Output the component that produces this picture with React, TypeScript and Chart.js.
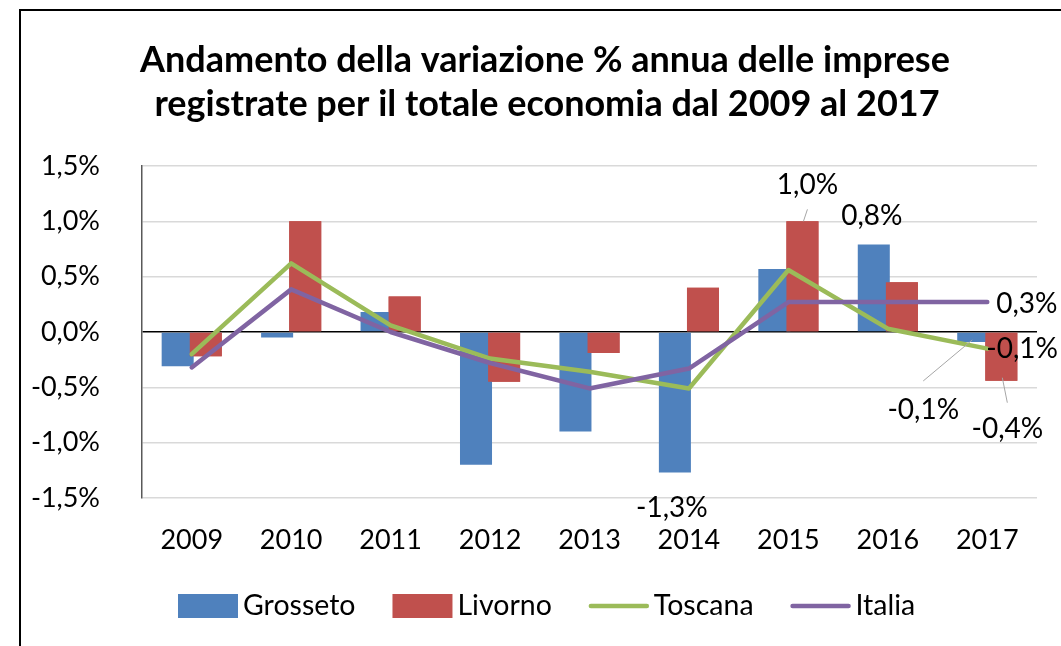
import React, { useEffect, useRef } from 'react';
import { Chart, registerables } from 'chart.js';

Chart.register(...registerables);

const years = ['2009', '2010', '2011', '2012', '2013', '2014', '2015', '2016', '2017'];
const grosseto = [-0.31, -0.05, 0.18, -1.2, -0.9, -1.27, 0.57, 0.79, -0.09];
const livorno = [-0.22, 1.0, 0.32, -0.45, -0.19, 0.4, 1.0, 0.45, -0.44];
const toscana = [-0.2, 0.62, 0.06, -0.24, -0.36, -0.51, 0.56, 0.03, -0.15];
const italia = [-0.32, 0.385, 0.0, -0.28, -0.51, -0.33, 0.27, 0.27, 0.27];
const yMin = -1.5;
const yMax = 1.5;
const yStep = 0.5;
const titleLines = [
  'Andamento della variazione % annua delle imprese',
  'registrate per il totale economia dal 2009 al 2017',
];

const FONT = 'Lato';

const fmt = (v: number) => (Math.round(v * 10) / 10).toFixed(1).replace('.', ',') + '%';

// label placement (style): dataset index, point index, offset, alignment, optional leader line
const labelDefs = [
  { ds: 1, i: 6, dx: 5, dy: -36, align: 'center', leader: [5, -12, 1, 0] },
  { ds: 0, i: 7, dx: -2, dy: -29, align: 'center' },
  { ds: 3, i: 8, dx: 9, dy: 2, align: 'left' },
  { ds: 2, i: 8, dx: -1, dy: 0, align: 'left' },
  { ds: 0, i: 8, dx: -50, dy: 68, align: 'center', leader: [-1, -2, -50, 39] },
  { ds: 1, i: 8, dx: 6, dy: 48, align: 'center', leader: [1, -3, 6, 22] },
  { ds: 0, i: 5, dx: -3, dy: 35, align: 'center' },
];

const decorPlugin = {
  id: 'decor',
  afterDatasetDraw(chart: any, args: any) {
    // Livorno bars sit over Grosseto bars where they overlap
    if (args.index === 0) {
      chart.getDatasetMeta(1).controller.draw();
    }
  },
  afterDraw(chart: any) {
    const ctx = chart.ctx as CanvasRenderingContext2D;
    ctx.save();
    // outer frame
    ctx.strokeStyle = '#000';
    ctx.lineWidth = 2;
    ctx.beginPath();
    ctx.moveTo(20, 646);
    ctx.lineTo(20, 10);
    ctx.lineTo(1061, 10);
    ctx.stroke();

    // title
    ctx.fillStyle = '#000';
    ctx.font = `bold 36px ${FONT}`;
    ctx.textAlign = 'center';
    ctx.textBaseline = 'middle';
    ctx.fillText(titleLines[0], 545, 60);
    ctx.fillText(titleLines[1], 547, 104);

    // data labels
    ctx.font = `28px ${FONT}`;
    ctx.textBaseline = 'middle';
    labelDefs.forEach((d) => {
      const meta = chart.getDatasetMeta(d.ds);
      const el = meta.data[d.i];
      const v = chart.data.datasets[d.ds].data[d.i];
      if (d.leader) {
        ctx.strokeStyle = '#a6a6a6';
        ctx.lineWidth = 1;
        ctx.beginPath();
        ctx.moveTo(el.x + d.leader[0], el.y + d.leader[1]);
        ctx.lineTo(el.x + d.leader[2], el.y + d.leader[3]);
        ctx.stroke();
      }
      ctx.fillStyle = '#000';
      ctx.textAlign = d.align as CanvasTextAlign;
      ctx.fillText(fmt(v), el.x + d.dx, el.y + d.dy);
    });

    // legend
    ctx.font = `28.5px ${FONT}`;
    const items = chart.data.datasets.map((ds: any) => ({
      label: ds.label,
      color: ds.type === 'line' ? ds.borderColor : ds.backgroundColor,
      line: ds.type === 'line',
    }));
    const sym = 60;
    const gapSym = 5;
    const gapItem = 37;
    let x = 178;
    const cy = 606;
    ctx.textAlign = 'left';
    ctx.textBaseline = 'middle';
    items.forEach((it: any) => {
      if (it.line) {
        ctx.strokeStyle = it.color;
        ctx.lineWidth = 4.5;
        ctx.lineCap = 'round';
        ctx.beginPath();
        ctx.moveTo(x + 2, cy);
        ctx.lineTo(x + sym - 2, cy);
        ctx.stroke();
      } else {
        ctx.fillStyle = it.color;
        ctx.fillRect(x, cy - 12, sym, 24);
      }
      x += sym + gapSym;
      ctx.fillStyle = '#000';
      ctx.fillText(it.label, x, cy);
      x += ctx.measureText(it.label).width + gapItem;
    });
    ctx.restore();
  },
};

export default function App() {
  const ref = useRef<HTMLCanvasElement>(null);
  useEffect(() => {
    if (!ref.current) return;
    Chart.defaults.font.family = FONT;
    const chart = new Chart(ref.current, {
      type: 'bar',
      data: {
        labels: years,
        datasets: [
          {
            type: 'bar',
            label: 'Grosseto',
            data: grosseto,
            backgroundColor: '#4F81BD',
            order: 2,
            barPercentage: 1.14,
            categoryPercentage: 0.565,
          },
          {
            type: 'bar',
            label: 'Livorno',
            data: livorno,
            backgroundColor: '#C0504D',
            order: 3,
            barPercentage: 1.14,
            categoryPercentage: 0.565,
          },
          {
            type: 'line',
            label: 'Toscana',
            data: toscana,
            borderColor: '#9BBB59',
            backgroundColor: '#9BBB59',
            borderWidth: 4.5,
            pointRadius: 0,
            tension: 0,
            borderCapStyle: 'round',
            borderJoinStyle: 'round',
            order: 1,
          },
          {
            type: 'line',
            label: 'Italia',
            data: italia,
            borderColor: '#8064A2',
            backgroundColor: '#8064A2',
            borderWidth: 4.5,
            pointRadius: 0,
            tension: 0,
            borderCapStyle: 'round',
            borderJoinStyle: 'round',
            order: 0,
          },
        ] as any,
      },
      options: {
        responsive: false,
        animation: false,
        layout: { padding: { left: 0, top: 166, right: 24, bottom: 0 } },
        plugins: {
          legend: { display: false },
          title: { display: false },
          tooltip: { enabled: false },
        },
        scales: {
          x: {
            grid: { display: false, drawTicks: false },
            border: { display: false },
            ticks: { color: '#000', font: { size: 27, family: FONT }, padding: 26, maxRotation: 0 },
            afterFit: (s: any) => {
              s.height = 148;
            },
          },
          y: {
            min: yMin,
            max: yMax,
            ticks: {
              stepSize: yStep,
              color: '#000',
              font: { size: 27, family: FONT },
              padding: 42,
              callback: (v: any) => Number(v).toFixed(1).replace('.', ',') + '%',
            },
            grid: {
              drawTicks: false,
              color: (c: any) => (c.tick && c.tick.value === 0 ? '#000' : '#d9d9d9'),
              lineWidth: 1.5,
            },
            border: { display: true, color: '#595959', width: 1.5 },
            afterFit: (s: any) => {
              s.width = 142;
            },
          },
        },
      },
      plugins: [decorPlugin],
    });
    return () => chart.destroy();
  }, []);
  return (
    <div style={{ position: 'absolute', left: 0, top: 0, width: 1061, height: 646, background: '#fff' }}>
      <canvas ref={ref} width={1061} height={646} style={{ display: 'block' }} />
    </div>
  );
}
